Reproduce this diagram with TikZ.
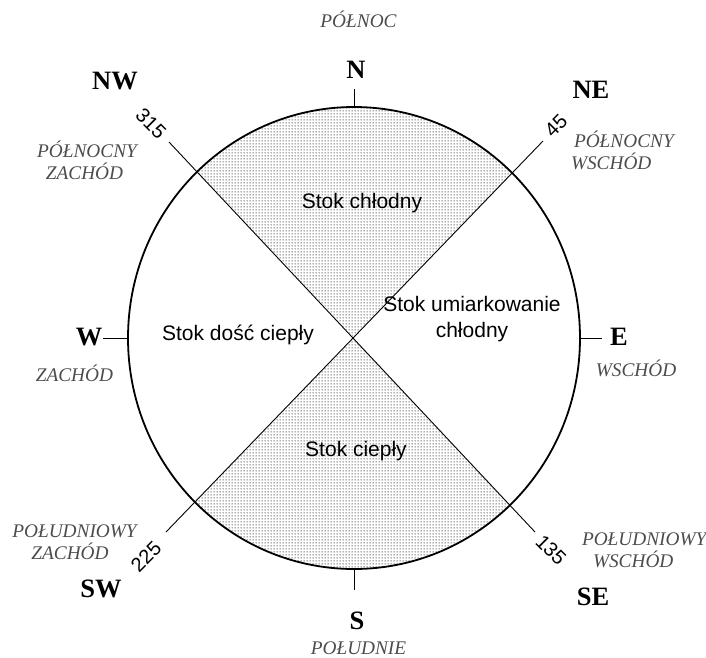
\documentclass[tikz,border=0pt]{standalone}
\usepackage{fontspec}
\setmainfont{Liberation Serif}
\setsansfont{Liberation Sans}
\usetikzlibrary{patterns}
\pgfdeclarepatternformonly{sqdots}{\pgfpointorigin}{\pgfpoint{3pt}{3pt}}{\pgfpoint{3pt}{3pt}}{%
  \pgfpathrectangle{\pgfpoint{0.9pt}{0.9pt}}{\pgfpoint{1.1pt}{1.1pt}}\pgfusepath{fill}}
\begin{document}
\begin{tikzpicture}[x=1pt,y=-1pt,
  every node/.style={inner sep=0pt, outer sep=0pt},
  compass/.style={font=\fontsize{26.5}{30}\selectfont\bfseries},
  dirname/.style={font=\fontsize{19.3}{22}\selectfont\itshape, text=black!70, text height=12.5pt, text depth=0pt},
  region/.style={font=\sffamily\fontsize{21}{26}\selectfont, align=center, anchor=base},
  deg/.style={font=\sffamily\fontsize{20}{24}\selectfont},
  rim/.style={line width=1.8pt},
  hairline/.style={line width=0.9pt},
  dotted fill/.style={pattern=sqdots, pattern color=black!70}]
\useasboundingbox (0,0) rectangle (706,657);
% geometry
\coordinate (c) at (354,338);
\coordinate (nwEnd) at (169,142);
\coordinate (neEnd) at (543,141);
\coordinate (swEnd) at (166,532);
\coordinate (seEnd) at (535,532);
\coordinate (nwFar) at (169,0);
\coordinate (neFar) at (543,0);
\coordinate (swFar) at (166,657);
\coordinate (seFar) at (535,657);
\coordinate (nRim) at (354,107);
\coordinate (sRim) at (354,569);
\coordinate (wRim) at (128,338);
\coordinate (eRim) at (580,338);
\coordinate (nTick) at (354,89);
\coordinate (sTick) at (354,590);
\coordinate (wTick) at (103,338);
\coordinate (eTick) at (602,338);
% shaded sectors
\begin{scope}
  \clip (c) ellipse [x radius=226, y radius=231];
  \fill[dotted fill] (c) -- (nwEnd) -- (nwFar) -- (neFar) -- (neEnd) -- cycle;
  \fill[dotted fill] (c) -- (swEnd) -- (swFar) -- (seFar) -- (seEnd) -- cycle;
\end{scope}
% diagonals
\draw[hairline] (nwEnd) -- (seEnd);
\draw[hairline] (neEnd) -- (swEnd);
% ticks
\draw[hairline] (nTick) -- (nRim);
\draw[hairline] (sTick) -- (sRim);
\draw[hairline] (wTick) -- (wRim);
\draw[hairline] (eTick) -- (eRim);
% rim
\draw[rim] (c) ellipse [x radius=226, y radius=231];
% compass letters
\node[compass] (N) at (356,70) {N};
\node[compass] (NE) at (591,90) {NE};
\node[compass] (E) at (619,337) {E};
\node[compass] (SE) at (593,597) {SE};
\node[compass] (S) at (357,621) {S};
\node[compass] (SW) at (101,589) {SW};
\node[compass] (W) at (89,337) {W};
\node[compass] (NW) at (115,81) {NW};
% direction names
\node[dirname] (pn) at (358.5,21) {PÓŁNOC};
\node[dirname] (pnz1) at (87,151) {PÓŁNOCNY};
\node[dirname] (pnz2) at (84.5,173) {ZACHÓD};
\node[dirname, anchor=west] (pnw1) at (574,141) {PÓŁNOCNY};
\node[dirname, anchor=west] (pnw2) at (571,163) {WSCHÓD};
\node[dirname, anchor=east] (zach) at (113,375) {ZACHÓD};
\node[dirname] (wsch) at (636,370) {WSCHÓD};
\node[dirname] (pdz1) at (74.5,531) {POŁUDNIOWY};
\node[dirname] (pdz2) at (70,553) {ZACHÓD};
\node[dirname, anchor=west] (pdw1) at (582,539) {POŁUDNIOWY};
\node[dirname, anchor=west] (pdw2) at (593,561) {WSCHÓD};
\node[dirname] (pd) at (358.5,648) {POŁUDNIE};
% degrees
\node[deg, rotate=-45] (d315) at (151,123.5) {315};
\node[deg, rotate=45] (d45) at (556,125.5) {45};
\node[deg, rotate=45] (d225) at (146,557) {225};
\node[deg, rotate=-45] (d135) at (551,550) {135};
% regions
\node[region] (cold) at (362,208) {Stok chłodny};
\node[region] (warmish) at (238,340) {Stok dość ciepły};
\node[region] (mild) at (472,337) {Stok umiarkowanie\\chłodny};
\node[region] (warm) at (356,456) {Stok ciepły};
\end{tikzpicture}
\end{document}
